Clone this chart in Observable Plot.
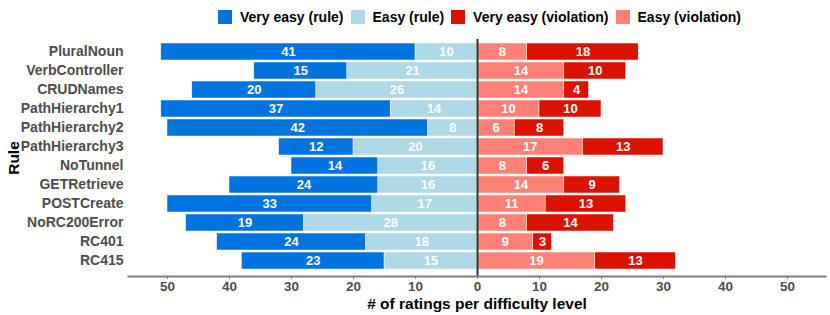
<!DOCTYPE html>
<html>
<head>
<meta charset="utf-8">
<script src="https://cdn.jsdelivr.net/npm/d3@7"></script>
<script src="https://cdn.jsdelivr.net/npm/@observablehq/plot@0.6"></script>
<style>
  html, body { margin: 0; padding: 0; background: #fff; }
  body { width: 830px; height: 315px; overflow: hidden; font-family: "Liberation Sans", Arial, sans-serif; }
  #legend { height: 34px; display: flex; align-items: center; padding-left: 218px; box-sizing: border-box;
            font-weight: bold; font-size: 14px; color: #000; }
  #legend .item { display: flex; align-items: center; margin-right: 7px; }
  #legend .sw { width: 14px; height: 14px; margin-right: 8px; }
  #chart svg { display: block; font-family: "Liberation Sans", Arial, sans-serif; }
  #chart g[aria-label="y-axis tick label"] text, #chart g[aria-label="x-axis tick label"] text { fill: #4d4d4d; font-weight: bold; }
  #chart g[aria-label="x-axis tick"] { color: #7f7f7f; }
  #chart g[aria-label="y-axis label"] text, #chart g[aria-label="x-axis label"] text { fill: #000; font-weight: bold; font-size: 15.5px; }
</style>
</head>
<body>
<div id="legend"></div>
<div id="chart"></div>
<script>
const rules = ["PluralNoun","VerbController","CRUDNames","PathHierarchy1","PathHierarchy2","PathHierarchy3","NoTunnel","GETRetrieve","POSTCreate","NoRC200Error","RC401","RC415"];
const veryEasyRule      = [41,15,20,37,42,12,14,24,33,19,24,23];
const easyRule          = [10,21,26,14, 8,20,16,16,17,28,18,15];
const easyViolation     = [ 8,14,14,10, 6,17, 8,14,11, 8, 9,19];
const veryEasyViolation = [18,10, 4,10, 8,13, 6, 9,13,14, 3,13];
const seriesNames = ["Very easy (rule)","Easy (rule)","Very easy (violation)","Easy (violation)"];
const seriesColors = ["#0074DE","#ADD8E6","#DC1200","#FF8077"];
const xTicks = [-50,-40,-30,-20,-10,0,10,20,30,40,50];

// Long table: stacking order from zero outward on each side
const data = [];
rules.forEach((r, i) => {
  data.push({rule: r, series: "Easy (rule)", v: -easyRule[i]});
  data.push({rule: r, series: "Very easy (rule)", v: -veryEasyRule[i]});
  data.push({rule: r, series: "Easy (violation)", v: easyViolation[i]});
  data.push({rule: r, series: "Very easy (violation)", v: veryEasyViolation[i]});
});

// legend
const legend = document.getElementById("legend");
seriesNames.forEach((s, i) => {
  const it = document.createElement("div"); it.className = "item";
  const sw = document.createElement("div"); sw.className = "sw"; sw.style.background = seriesColors[i];
  const t = document.createElement("span"); t.textContent = s;
  it.appendChild(sw); it.appendChild(t); legend.appendChild(it);
});

const chart = Plot.plot({
  width: 830,
  height: 281,
  marginLeft: 128,
  marginRight: 5,
  marginTop: 5,
  marginBottom: 39,
  style: {fontFamily: "Liberation Sans, Arial, sans-serif", fontSize: "14px"},
  x: {domain: [-56.29, 56.13]},
  y: {domain: rules, padding: 0.1, insetBottom: 2},
  color: {domain: seriesNames, range: seriesColors},
  marks: [
    Plot.barX(data, Plot.stackX({x: "v", y: "rule", fill: "series", z: "series", stroke: "white", strokeWidth: 0.5})),
    Plot.text(data, Plot.stackX({x: "v", y: "rule", z: "series", text: d => Math.abs(d.v),
      fill: "white", fontWeight: "bold", fontSize: 13})),
    Plot.ruleX([0], {stroke: "#333", strokeWidth: 2}),
    Plot.frame({anchor: "bottom", stroke: "#7f7f7f", strokeWidth: 2}),
    Plot.axisY({tickSize: 0, tickPadding: 5, label: "Rule", labelAnchor: "center", labelArrow: "none", labelOffset: 121, fontSize: 14}),
    Plot.axisX({ticks: xTicks, tickSize: 3, tickPadding: 2, tickFormat: d => Math.abs(d),
      label: "# of ratings per difficulty level", labelAnchor: "center", labelArrow: "none", labelOffset: 32, fontSize: 13.5})
  ]
});
document.getElementById("chart").appendChild(chart);
</script>
</body>
</html>
